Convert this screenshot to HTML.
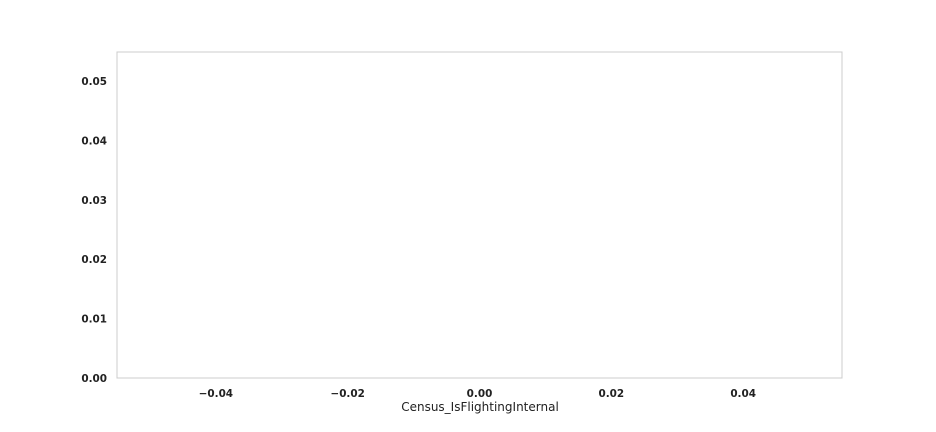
<!DOCTYPE html>
<html>
<head>
<meta charset="utf-8">
<style>
  html,body{margin:0;padding:0;background:#fff;}
  svg{display:block;font-family:"DejaVu Sans","Liberation Sans",sans-serif;}
</style>
</head>
<body>
<svg id="chart" width="936" height="432" viewBox="0 0 936 432">
  <rect x="117" y="52" width="725" height="326" fill="#fff" stroke="#cccccc" stroke-width="1"/>
  <g id="xticks"></g>
  <g id="yticks"></g>
  <g id="marks"></g>
  <text x="480" y="411" text-anchor="middle" font-size="12" fill="#222">Census_IsFlightingInternal</text>
</svg>
<script>
const xTickValues = [-0.04, -0.02, 0.00, 0.02, 0.04];
const xTickLabels = ["\u22120.04", "\u22120.02", "0.00", "0.02", "0.04"];
const yTickValues = [0, 0.01, 0.02, 0.03, 0.04, 0.05];
const yTickLabels = ["0.00", "0.01", "0.02", "0.03", "0.04", "0.05"];
const seriesX = [];
const seriesY = [];

const X0 = 117, X1 = 842, Y0 = 378, Y1 = 52;
const xMin = -0.055, xMax = 0.055, yMin = 0, yMax = 0.0549;
function xs(v){ return X0 + (v - xMin) / (xMax - xMin) * (X1 - X0); }
function ys(v){ return Y0 - (v - yMin) / (yMax - yMin) * (Y0 - Y1); }

const NS = "http://www.w3.org/2000/svg";
const gx = document.getElementById("xticks");
xTickValues.forEach((v, i) => {
  const t = document.createElementNS(NS, "text");
  t.setAttribute("x", xs(v));
  t.setAttribute("y", 397);
  t.setAttribute("text-anchor", "middle");
  t.setAttribute("font-size", "10.4");
  t.setAttribute("font-weight", "bold");
  t.setAttribute("fill", "#222");
  t.textContent = xTickLabels[i];
  
  
  gx.appendChild(t);
});
const gy = document.getElementById("yticks");
yTickValues.forEach((v, i) => {
  const t = document.createElementNS(NS, "text");
  t.setAttribute("x", 107);
  t.setAttribute("y", ys(v) + 4);
  t.setAttribute("text-anchor", "end");
  t.setAttribute("font-size", "10.4");
  t.setAttribute("font-weight", "bold");
  t.setAttribute("fill", "#222");
  t.textContent = yTickLabels[i];
  
  
  gy.appendChild(t);
});
const gm = document.getElementById("marks");
if (seriesX.length > 1) {
  const p = document.createElementNS(NS, "path");
  p.setAttribute("d", seriesX.map((v, i) => (i ? "L" : "M") + xs(v) + "," + ys(seriesY[i])).join(" "));
  p.setAttribute("fill", "none");
  p.setAttribute("stroke", "#1f77b4");
  
  
  gm.appendChild(p);
}
</script>
</body>
</html>
